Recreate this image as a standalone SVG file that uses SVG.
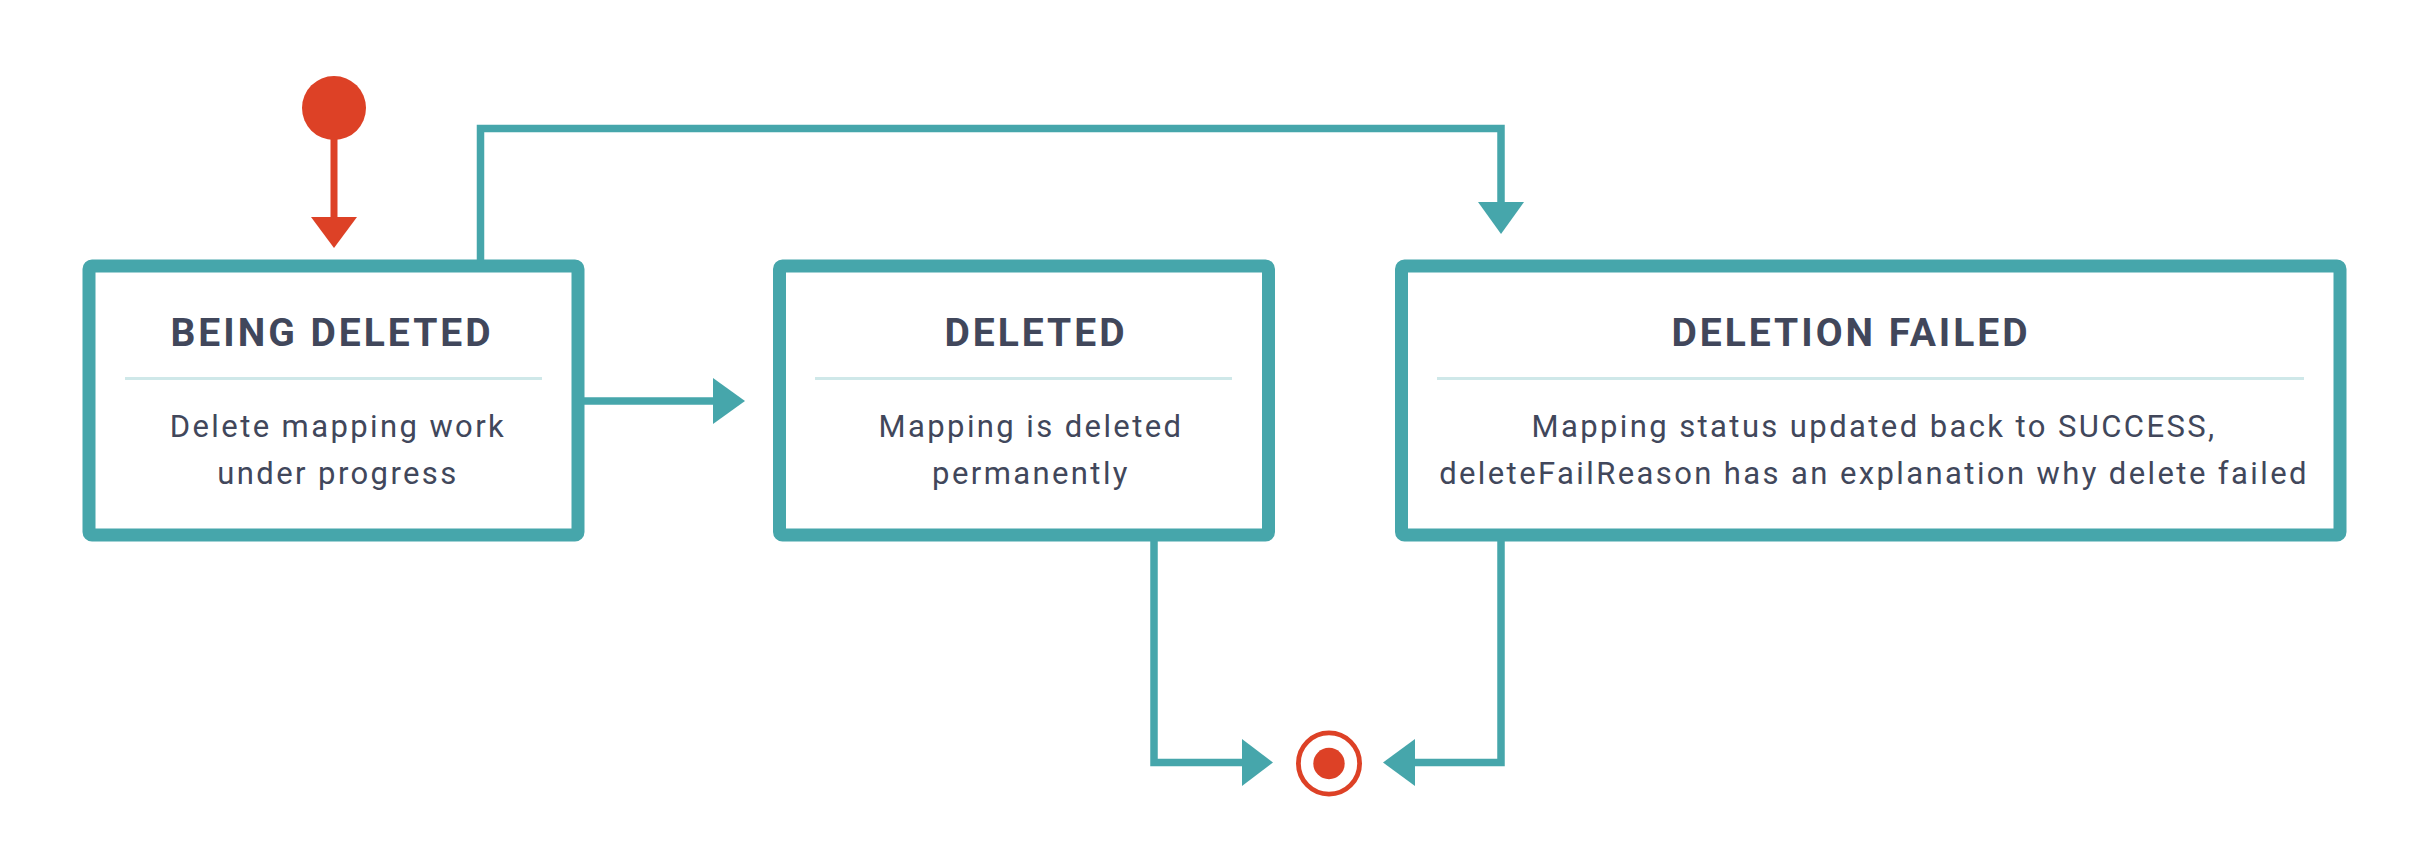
<svg xmlns="http://www.w3.org/2000/svg" width="2425" height="847" viewBox="0 0 2425 847">
<style>
.box{fill:#ffffff;stroke:#46a6ab;stroke-width:13}
.div{stroke:#cfe8e9;stroke-width:3}
.title{font-family:Roboto,"Liberation Sans",sans-serif;font-weight:700;font-size:39px;fill:#41475b;text-anchor:middle;letter-spacing:3px}
.body{font-family:Roboto,"Liberation Sans",sans-serif;font-weight:400;font-size:31px;fill:#41475b;text-anchor:middle;letter-spacing:2.4px}
.conn{fill:none;stroke:#46a6ab;stroke-width:7.5}
.head{fill:#46a6ab}
.red{fill:#dd4126}
</style>
<rect width="2425" height="847" fill="#ffffff"/>
<g id="connectors">
<line x1="334" y1="130" x2="334" y2="219" stroke="#dd4126" stroke-width="7"/>
<polygon class="red" points="311,217 357,217 334,248"/>
<path class="conn" d="M480.5,262 V128.5 H1501 V204"/>
<polygon class="head" points="1478,202 1524,202 1501,234"/>
<path class="conn" d="M582,401 H715"/>
<polygon class="head" points="713,378 713,424 745,401"/>
<path class="conn" d="M1154,539 V762.5 H1244"/>
<polygon class="head" points="1242,739 1242,786 1273,762.5"/>
<path class="conn" d="M1501,539 V762.5 H1413"/>
<polygon class="head" points="1415,739 1415,786 1383,762.5"/>
</g>
<g id="start">
<circle class="red" cx="334" cy="108" r="32"/>
</g>
<g id="end">
<circle cx="1329" cy="763.5" r="30.6" fill="none" stroke="#dd4126" stroke-width="4.8"/>
<circle class="red" cx="1329" cy="763.5" r="15.7"/>
</g>
<g id="being-deleted">
<rect class="box" x="89" y="266" width="489" height="269" rx="3"/>
<line class="div" x1="125" y1="378.5" x2="542" y2="378.5"/>
<text class="title" x="332" y="346">BEING DELETED</text>
<text class="body" x="338" y="437">Delete mapping work</text>
<text class="body" x="338" y="484">under progress</text>
</g>
<g id="deleted">
<rect class="box" x="779.5" y="266" width="489" height="269" rx="3"/>
<line class="div" x1="815" y1="378.5" x2="1232" y2="378.5"/>
<text class="title" x="1036" y="346">DELETED</text>
<text class="body" x="1031" y="437">Mapping is deleted</text>
<text class="body" x="1031" y="484">permanently</text>
</g>
<g id="deletion-failed">
<rect class="box" x="1401.5" y="266" width="938.5" height="269" rx="3"/>
<line class="div" x1="1437" y1="378.5" x2="2304" y2="378.5"/>
<text class="title" x="1851" y="346">DELETION FAILED</text>
<text class="body" x="1874" y="437">Mapping status updated back to SUCCESS,</text>
<text class="body" x="1874" y="484">deleteFailReason has an explanation why delete failed</text>
</g>
</svg>
